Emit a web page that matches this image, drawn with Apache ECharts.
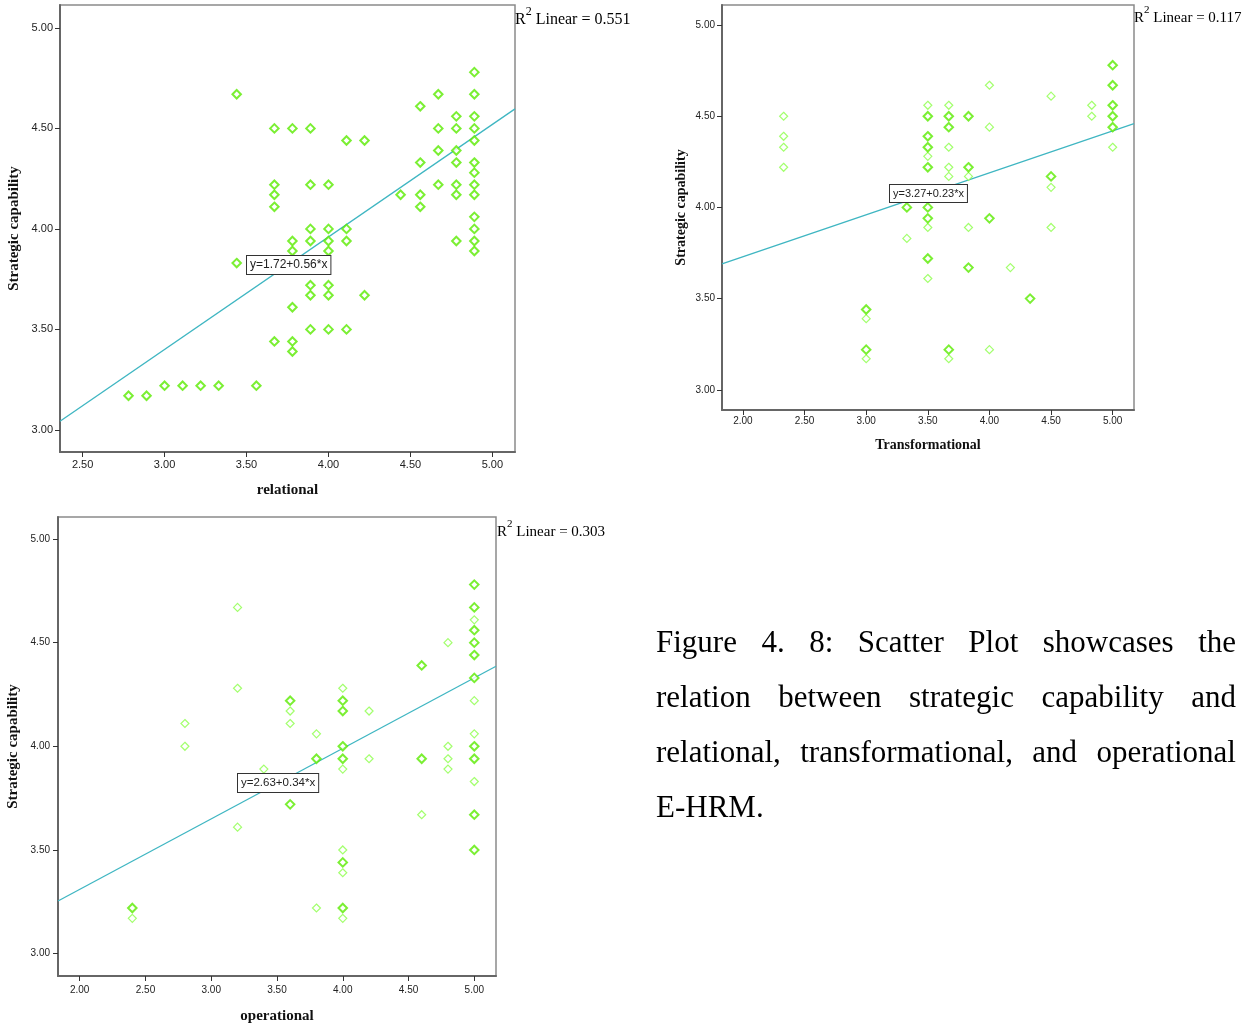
<!DOCTYPE html>
<html><head><meta charset="utf-8">
<script src="https://cdn.jsdelivr.net/npm/echarts@6/dist/echarts.min.js"></script>
<style>
html,body{margin:0;padding:0;background:#fff;}
#chart{position:absolute;left:0;top:0;width:1250px;height:1027px;}
#caption{position:absolute;left:656px;top:614px;width:580px;font-family:'Liberation Serif','Times New Roman',serif;font-size:31px;line-height:55px;color:#000;}
#caption .j{text-align:justify;text-align-last:justify;white-space:nowrap;}
</style></head><body>
<div id="chart"></div>
<div id="caption">
<div class="j">Figure 4. 8: Scatter Plot showcases the</div>
<div class="j">relation between strategic capability and</div>
<div class="j">relational, transformational, and operational</div>
<div>E-HRM.</div>
</div>
<script>
// ---------- DATA ----------
const yTicks = [3.00, 3.50, 4.00, 4.50, 5.00];
const relationalTicks = [2.50, 3.00, 3.50, 4.00, 4.50, 5.00];
const transformationalTicks = [2.00, 2.50, 3.00, 3.50, 4.00, 4.50, 5.00];
const operationalTicks = [2.00, 2.50, 3.00, 3.50, 4.00, 4.50, 5.00];

const relationalBold = [
  [3.44,4.67],[3.67,4.50],[3.78,4.50],[3.89,4.50],[4.11,4.44],[4.22,4.44],[4.56,4.61],[4.67,4.67],
  [4.89,4.78],[4.89,4.67],[4.78,4.56],[4.89,4.56],[4.67,4.50],[4.78,4.50],[4.89,4.50],[4.89,4.44],
  [4.67,4.39],[4.78,4.39],[4.56,4.33],[4.78,4.33],[4.89,4.33],[4.89,4.28],[3.67,4.22],[3.89,4.22],
  [4.00,4.22],[4.67,4.22],[4.78,4.22],[4.89,4.22],[3.67,4.17],[4.44,4.17],[4.56,4.17],[4.78,4.17],
  [4.89,4.17],[3.67,4.11],[4.56,4.11],[4.89,4.06],[3.89,4.00],[4.00,4.00],[4.11,4.00],[4.89,4.00],
  [3.78,3.94],[3.89,3.94],[4.00,3.94],[4.11,3.94],[4.78,3.94],[4.89,3.94],[3.78,3.89],[4.00,3.89],
  [4.89,3.89],[3.44,3.83],[3.89,3.72],[4.00,3.72],[3.89,3.67],[4.00,3.67],[4.22,3.67],[3.78,3.61],
  [3.89,3.50],[4.00,3.50],[4.11,3.50],[3.67,3.44],[3.78,3.44],[3.78,3.39],[2.78,3.17],[2.89,3.17],
  [3.00,3.22],[3.11,3.22],[3.22,3.22],[3.33,3.22],[3.56,3.22]
];
const relationalLight = [];

const transformationalBold = [
  [3.50,4.50],[3.50,4.22],[3.50,4.39],[3.50,4.33],[3.67,4.50],[3.67,4.44],[3.83,4.50],[3.83,4.22],
  [4.50,4.17],[5.00,4.78],[5.00,4.67],[5.00,4.56],[5.00,4.50],[5.00,4.44],[3.33,4.00],[3.50,4.00],
  [3.50,3.94],[4.00,3.94],[3.50,3.72],[3.83,3.67],[4.33,3.50],[3.00,3.44],[3.00,3.22],[3.67,3.22]
];
const transformationalLight = [
  [2.33,4.50],[2.33,4.39],[2.33,4.33],[2.33,4.22],[3.50,4.56],[3.50,4.28],[3.67,4.56],[3.67,4.33],
  [3.67,4.22],[3.67,4.17],[3.83,4.17],[4.00,4.67],[4.00,4.44],[4.50,4.61],[4.83,4.56],[4.83,4.50],
  [5.00,4.33],[4.50,4.11],[3.50,3.89],[3.83,3.89],[4.50,3.89],[3.33,3.83],[4.17,3.67],[3.50,3.61],
  [3.00,3.39],[3.00,3.17],[3.67,3.17],[4.00,3.22]
];

const operationalBold = [
  [5.00,4.78],[5.00,4.67],[5.00,4.56],[5.00,4.50],[5.00,4.44],[4.60,4.39],[5.00,4.33],[3.60,4.22],
  [4.00,4.22],[4.00,4.17],[4.00,4.00],[5.00,4.00],[3.80,3.94],[4.00,3.94],[4.60,3.94],[5.00,3.94],
  [3.60,3.72],[5.00,3.67],[5.00,3.50],[4.00,3.44],[4.00,3.22],[2.40,3.22]
];
const operationalLight = [
  [3.20,4.67],[3.20,4.28],[2.80,4.11],[2.80,4.00],[3.60,4.17],[3.60,4.11],[5.00,4.61],[4.80,4.50],
  [5.00,4.22],[4.00,4.28],[4.20,4.17],[3.80,4.06],[5.00,4.06],[4.80,4.00],[4.20,3.94],[4.80,3.94],
  [4.80,3.89],[5.00,3.83],[4.00,3.89],[3.40,3.89],[4.60,3.67],[4.00,3.50],[4.00,3.39],[3.80,3.22],
  [4.00,3.17],[3.20,3.61],[2.40,3.17]
];

const relationalFit = [1.72, 0.56];
const transformationalFit = [3.27, 0.23];
const operationalFit = [2.63, 0.34];
const rSquaredValues = ['0.551', '0.117', '0.303'];
const xTitles = ['relational', 'Transformational', 'operational'];
const yTitle = 'Strategic capability';

// ---------- LAYOUT ----------
const panels = [
  { bold: relationalBold, light: relationalLight, fit: relationalFit, xTicks: relationalTicks,
    grid: {left: 60, top: 5, width: 455, height: 447}, xRange: [2.362, 5.138], yRange: [2.89, 5.114],
    tickFont: 11, titleFont: 15, xGap: 31, yGap: 38, xMargin: 7, yMargin: 7,
    eq: {left: 246, top: 255, font: 12}, r2: {left: 515, top: 6, font: 16} },
  { bold: transformationalBold, light: transformationalLight, fit: transformationalFit, xTicks: transformationalTicks,
    grid: {left: 722, top: 5, width: 412, height: 405}, xRange: [1.83, 5.173], yRange: [2.889, 5.11],
    tickFont: 10, titleFont: 14, xGap: 28, yGap: 34, xMargin: 6, yMargin: 7,
    eq: {left: 889, top: 184, font: 11}, r2: {left: 1134, top: 5, font: 15} },
  { bold: operationalBold, light: operationalLight, fit: operationalFit, xTicks: operationalTicks,
    grid: {left: 58, top: 517, width: 438, height: 459}, xRange: [1.835, 5.165], yRange: [2.892, 5.106],
    tickFont: 10, titleFont: 15, xGap: 33, yGap: 37, xMargin: 9, yMargin: 8,
    eq: {left: 237, top: 773, font: 11.5}, r2: {left: 497, top: 519, font: 15} }
];

const SANS = "'Liberation Sans', Arial, sans-serif";
const SERIF = "'Liberation Serif', 'Times New Roman', serif";
const fmt = v => Number(v).toFixed(2);

const option = {
  backgroundColor: '#fff',
  animation: false,
  grid: [], xAxis: [], yAxis: [], series: [], graphic: []
};

panels.forEach((p, i) => {
  option.grid.push(Object.assign({show: true, borderColor: '#8a8a8a', borderWidth: 1.5, backgroundColor: '#fff'}, p.grid));
  option.xAxis.push({
    type: 'value', gridIndex: i, min: p.xRange[0], max: p.xRange[1],
    name: xTitles[i], nameLocation: 'middle', nameGap: p.xGap,
    nameTextStyle: {fontFamily: SERIF, fontWeight: 'bold', fontSize: p.titleFont, color: '#111'},
    splitLine: {show: false},
    axisLine: {show: true, onZero: false, lineStyle: {color: '#666', width: 2}},
    axisTick: {show: true, inside: false, length: 5, customValues: p.xTicks, lineStyle: {color: '#333'}},
    axisLabel: {customValues: p.xTicks, formatter: fmt, margin: p.xMargin, fontFamily: SANS, fontSize: p.tickFont, color: '#222'}
  });
  option.yAxis.push({
    type: 'value', gridIndex: i, min: p.yRange[0], max: p.yRange[1],
    name: yTitle, nameLocation: 'middle', nameGap: p.yGap, nameRotate: 90,
    nameTextStyle: {fontFamily: SERIF, fontWeight: 'bold', fontSize: p.titleFont, color: '#111'},
    splitLine: {show: false},
    axisLine: {show: true, onZero: false, lineStyle: {color: '#666', width: 2}},
    axisTick: {show: true, inside: false, length: 5, customValues: yTicks, lineStyle: {color: '#333'}},
    axisLabel: {customValues: yTicks, formatter: fmt, margin: p.yMargin, fontFamily: SANS, fontSize: p.tickFont, color: '#222'}
  });
  option.series.push({
    type: 'line', xAxisIndex: i, yAxisIndex: i, symbol: 'none', silent: true, z: 2,
    lineStyle: {color: '#3fb6c2', width: 1.3},
    data: [p.xRange[0], p.xRange[1]].map(x => [x, p.fit[0] + p.fit[1] * x])
  });
  option.series.push({
    type: 'scatter', xAxisIndex: i, yAxisIndex: i, symbol: 'diamond', symbolSize: 8, z: 3,
    itemStyle: {color: '#fff', borderColor: '#8cff4a', borderWidth: 1.2},
    data: p.light
  });
  option.series.push({
    type: 'scatter', xAxisIndex: i, yAxisIndex: i, symbol: 'diamond', symbolSize: 8.5, z: 4,
    itemStyle: {color: '#fff', borderColor: '#5aeb00', borderWidth: 2},
    data: p.bold
  });
  option.graphic.push({
    type: 'text', left: p.eq.left, top: p.eq.top, z: 10,
    style: {
      text: 'y=' + p.fit[0].toFixed(2) + '+' + p.fit[1].toFixed(2) + '*x',
      font: p.eq.font + 'px ' + SANS, fill: '#222',
      backgroundColor: '#fff', borderColor: '#333', borderWidth: 1, padding: [3, 3, 3, 3]
    }
  });
  option.graphic.push({
    type: 'text', left: p.r2.left, top: p.r2.top, z: 10,
    style: {
      text: '{a|R}{s|2}{a| Linear = ' + rSquaredValues[i] + '}',
      rich: {
        a: {fontFamily: SERIF, fontSize: p.r2.font, color: '#111', lineHeight: p.r2.font + 6, verticalAlign: 'bottom'},
        s: {fontFamily: SERIF, fontSize: Math.round(p.r2.font * 0.75), color: '#111', lineHeight: p.r2.font + 6, verticalAlign: 'top'}
      }
    }
  });
});

const chart = echarts.init(document.getElementById('chart'), null, {renderer: 'canvas'});
chart.setOption(option);
</script>
</body></html>
